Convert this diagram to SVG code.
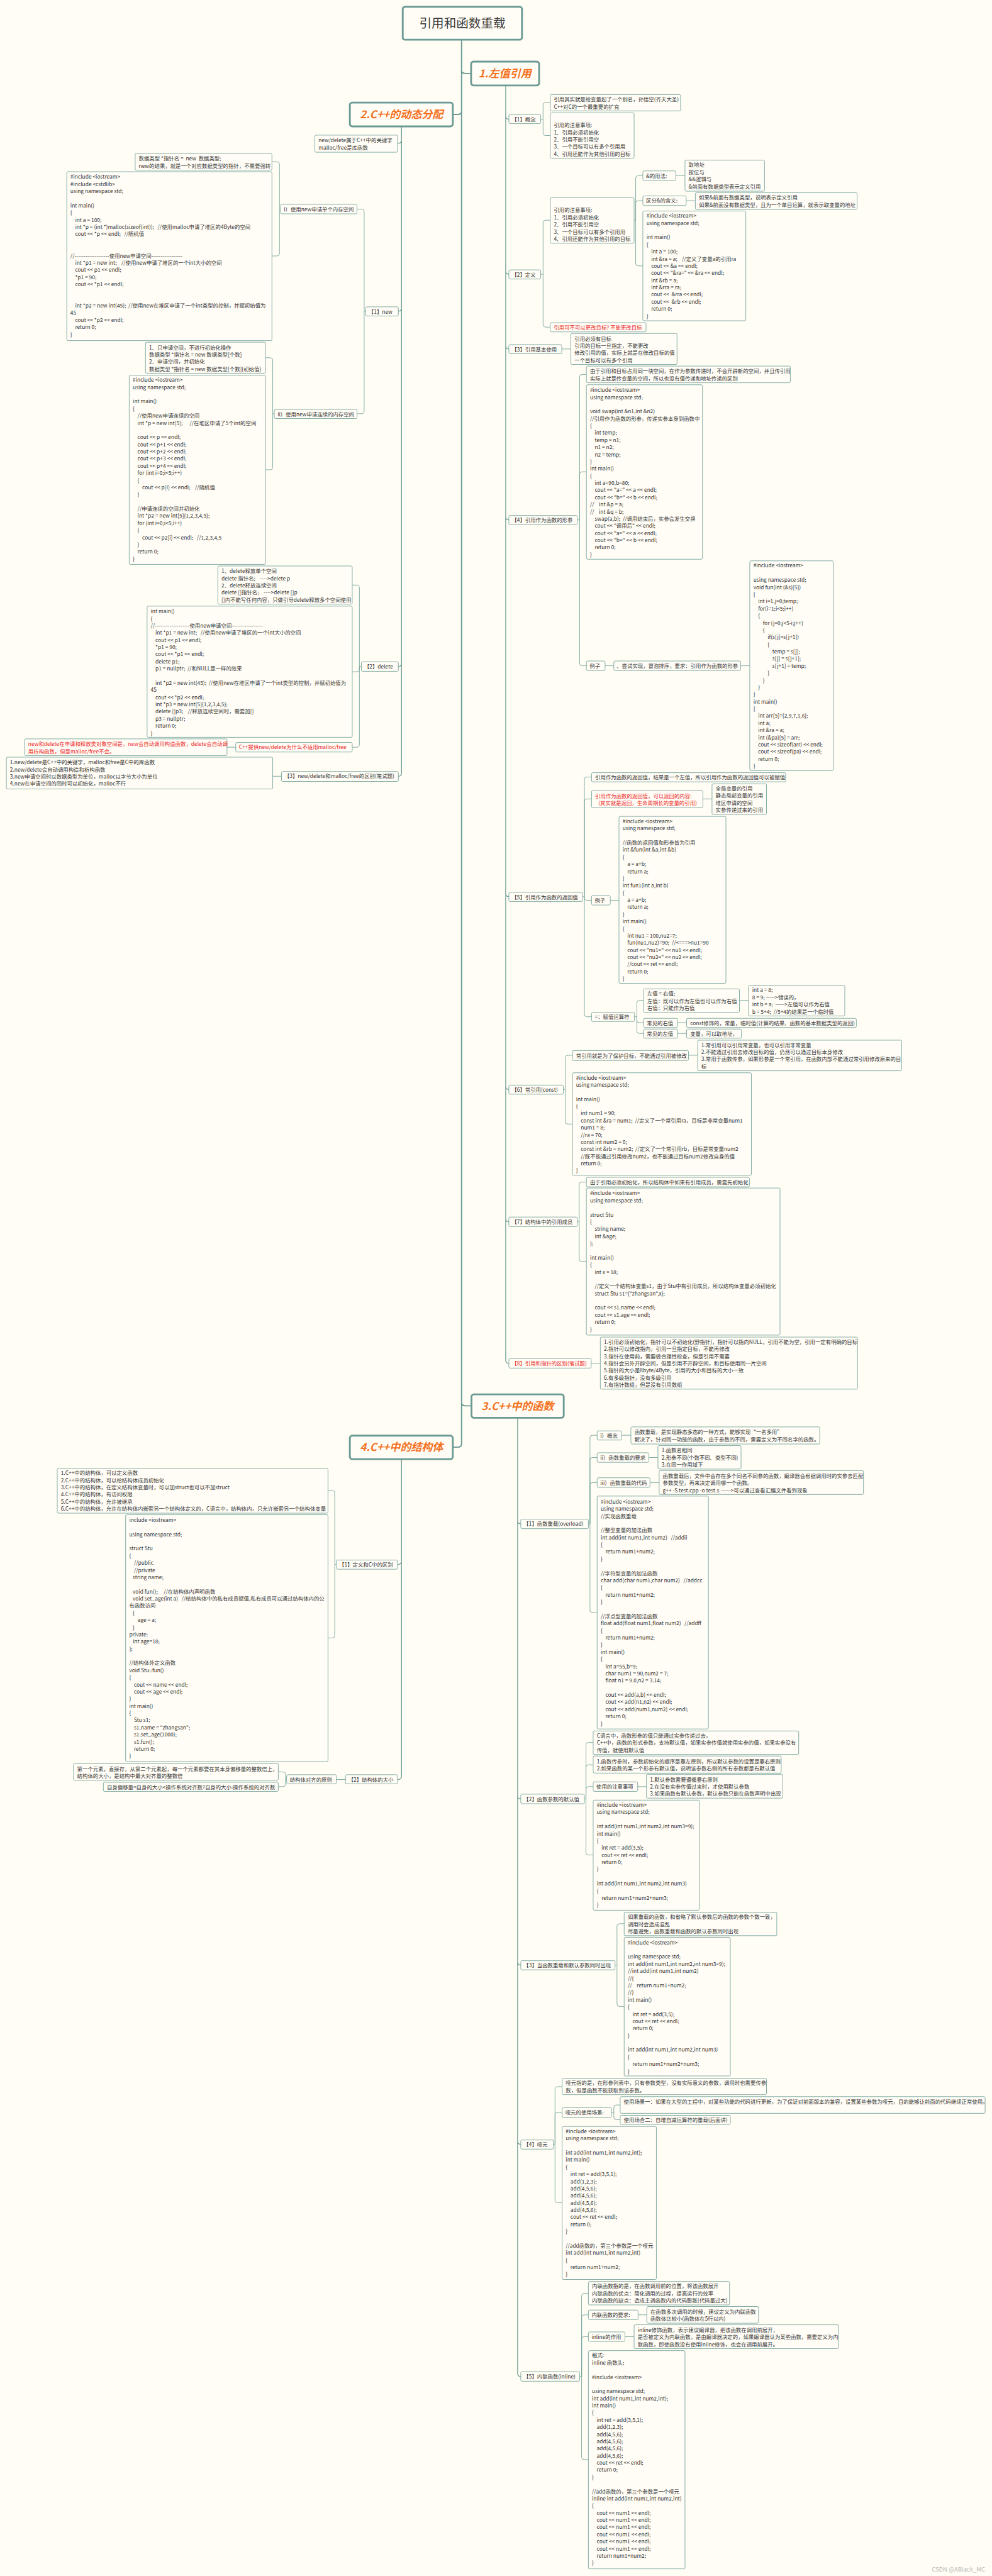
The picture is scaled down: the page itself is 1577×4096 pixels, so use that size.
<svg xmlns="http://www.w3.org/2000/svg" width="1577" height="4096" viewBox="0 0 1577 4096">
<style>
text{font-family:'Noto Sans CJK SC','Noto Sans',sans-serif;font-size:13.3px;fill:#333}
.r{fill:#ec1c1c}
.n{fill:#fffdf6;stroke:#74a29b;stroke-width:1.4;rx:3px}
.m{fill:#fffdf6;stroke:#6a9a93;stroke-width:4.5;rx:6px}
.mt{font-size:27px;font-weight:bold;font-style:italic;fill:#f4711f;text-anchor:middle}
.ti{font-size:31px;fill:#3a3a3a;text-anchor:middle}
.c{fill:none;stroke:#74a29b;stroke-width:1.4}
.c2{fill:none;stroke:#6a9a93;stroke-width:2}
.c3{fill:none;stroke:#6a9a93;stroke-width:3}
.wm{font-size:15px;fill:#b8b8b8;text-anchor:end}
</style>
<rect width="1577" height="4096" fill="#fffdf4"/>
<g transform="scale(0.632)">
<g id="connectors">
<path class="c3" d="M1161 100 V3633 Q1161 3641 1151 3641 H1139 M1161 177 Q1161 185 1171 185 H1185 M1161 280 Q1161 288 1151 288 H1139 M1161 3529 Q1161 3537 1171 3537 H1186"/>
<path class="c2" d="M1272 215 V3422 Q1272 3430 1280 3430 M1272 292 Q1272 300 1280 300 M1272 682 Q1272 690 1280 690 M1272 870 Q1272 878 1280 878 M1272 1300 Q1272 1308 1280 1308 M1272 2248 Q1272 2256 1280 2256 M1272 2733 Q1272 2741 1280 2741 M1272 3066 Q1272 3074 1280 3074"/>
<path class="c2" d="M1302 3567 V5971 Q1302 5979 1310 5979 M1302 3826 Q1302 3834 1310 3834 M1302 4518 Q1302 4526 1310 4526 M1302 4936 Q1302 4944 1310 4944 M1302 5387 Q1302 5395 1310 5395"/>
<path class="c2" d="M1010 318 V1945 Q1010 1953 1002 1953 M1010 353 Q1010 361 1000 361 M1010 775 Q1010 783 1002 783 M1010 1669 Q1010 1677 1002 1677"/>
<path class="c2" d="M1010 3671 V4469 Q1010 4477 1000 4477 M1010 3928 Q1010 3936 1000 3936"/>
<path class="c" d="M1360 300 H1366 M1366 300 V264 Q1366 258 1372 258 H1384 M1366 300 V335 Q1366 341 1372 341 H1384"/>
<path class="c" d="M1360 690 H1366 M1366 690 V560 Q1366 554 1372 554 H1384 M1366 690 V817 Q1366 823 1372 823 H1384"/>
<path class="c" d="M1595 554 H1599 M1599 554 V448 Q1599 442 1605 442 H1617 M1599 554 V511 Q1599 505 1605 505 H1617 M1599 554 V663 Q1599 669 1605 669 H1617"/>
<path class="c" d="M1700 442 H1723 M1726 505 H1749 M1413 878 H1436 M1522 1675 H1544 M1863 1675 H1886 M1768 2010 H1791 M1535 2265 H1557 M1860 2517 H1883 M1704 2573 H1727 M1704 2600 H1727 M1732 2655 H1755 M1487 3430 H1510"/>
<path class="c" d="M1452 1308 H1458 M1458 1308 V948 Q1458 942 1464 942 H1475 M1458 1308 V1193 Q1458 1187 1464 1187 H1475 M1458 1308 V1669 Q1458 1675 1464 1675 H1475"/>
<path class="c" d="M1466 2256 H1470 M1470 2256 V1961 Q1470 1955 1476 1955 H1488 M1470 2256 V2016 Q1470 2010 1476 2010 H1488 M1470 2256 V2259 Q1470 2265 1476 2265 H1488 M1470 2256 V2552 Q1470 2558 1476 2558 H1488"/>
<path class="c" d="M1596 2558 H1602 M1602 2558 V2523 Q1602 2517 1608 2517 H1619 M1602 2558 V2567 Q1602 2573 1608 2573 H1619 M1602 2558 V2594 Q1602 2600 1608 2600 H1619"/>
<path class="c" d="M1417 2741 H1422 M1422 2741 V2661 Q1422 2655 1428 2655 H1440 M1422 2741 V2822 Q1422 2828 1428 2828 H1440"/>
<path class="c" d="M1452 3074 H1457 M1457 3074 V2980 Q1457 2974 1463 2974 H1475 M1457 3074 V3168 Q1457 3174 1463 3174 H1475"/>
<path class="c" d="M1480 3834 H1484 M1484 3834 V3617 Q1484 3611 1490 3611 H1502 M1484 3834 V3673 Q1484 3667 1490 3667 H1502 M1484 3834 V3736 Q1484 3730 1490 3730 H1502 M1484 3834 V4051 Q1484 4057 1490 4057 H1502"/>
<path class="c" d="M1564 3611 H1587 M1632 3667 H1655 M1635 3730 H1658 M1604 4495 H1626 M1605 5824 H1627 M1572 5879 H1595"/>
<path class="c" d="M1470 4526 H1474 M1474 4526 V4390 Q1474 4384 1480 4384 H1492 M1474 4526 V4446 Q1474 4440 1480 4440 H1492 M1474 4526 V4501 Q1474 4495 1480 4495 H1492 M1474 4526 V4661 Q1474 4667 1480 4667 H1492"/>
<path class="c" d="M1547 4944 H1552 M1552 4944 V4846 Q1552 4840 1558 4840 H1570 M1552 4944 V5042 Q1552 5048 1558 5048 H1570"/>
<path class="c" d="M1392 5395 H1396 M1396 5395 V5256 Q1396 5250 1402 5250 H1414 M1396 5395 V5321 Q1396 5315 1402 5315 H1414 M1396 5395 V5536 Q1396 5542 1402 5542 H1414"/>
<path class="c" d="M1538 5315 H1544 M1544 5315 V5302 Q1544 5296 1550 5296 H1560 M1544 5315 V5327 Q1544 5333 1550 5333 H1560"/>
<path class="c" d="M1458 5979 H1463 M1463 5979 V5776 Q1463 5770 1469 5770 H1480 M1463 5979 V5830 Q1463 5824 1469 5824 H1480 M1463 5979 V5885 Q1463 5879 1469 5879 H1480 M1463 5979 V6182 Q1463 6188 1469 6188 H1480"/>
<path class="c" d="M920 783 H916 M916 783 V532 Q916 526 910 526 H898 M916 783 V1035 Q916 1041 910 1041 H898"/>
<path class="c" d="M706 526 H703 M703 526 V413 Q703 407 697 407 H684 M703 526 V638 Q703 644 697 644 H684"/>
<path class="c" d="M690 1041 H686 M686 1041 V906 Q686 900 680 900 H668 M686 1041 V1176 Q686 1182 680 1182 H668"/>
<path class="c" d="M909 1677 H904 M904 1677 V1478 Q904 1472 898 1472 H886 M904 1677 V1684 Q904 1690 898 1690 H886 M904 1677 V1874 Q904 1880 898 1880 H886"/>
<path class="c" d="M593 1880 H571 M708 1953 H686 M869 4477 H846"/>
<path class="c" d="M846 3936 H842 M842 3936 V3756 Q842 3750 836 3750 H825 M842 3936 V4115 Q842 4121 836 4121 H825"/>
<path class="c" d="M721 4477 H718 M718 4477 V4464 Q718 4458 712 4458 H700 M718 4477 V4489 Q718 4495 712 4495 H700"/>
</g>

<g id="title"><rect class="m" x="1013" y="17" width="300" height="83"/><text class="ti" x="1163" y="70">引用和函数重载</text></g>
<g id="main1"><rect class="m" x="1185" y="155" width="171" height="60"/><text class="mt" x="1270" y="194">1.左值引用</text></g>
<g id="main2"><rect class="m" x="880" y="258" width="259" height="60"/><text class="mt" x="1010" y="297">2.C++的动态分配</text></g>
<g id="main3"><rect class="m" x="1186" y="3508" width="232" height="59"/><text class="mt" x="1302" y="3547">3.C++中的函数</text></g>
<g id="main4"><rect class="m" x="880" y="3612" width="259" height="59"/><text class="mt" x="1010" y="3651">4.C++中的结构体</text></g>

<g id="s1-1"><rect class="n" x="1280" y="288" width="80" height="23"/><text x="1287" y="305">【1】概念</text></g>
<g id="s1-1a"><rect class="n" x="1384" y="238" width="328" height="41"/><text><tspan x="1393" y="255">引用其实就是给变量起了一个别名，孙悟空(齐天大圣)</tspan><tspan x="1393" y="273">C++对C的一个最重要的扩充</tspan></text></g>
<g id="s1-1b"><rect class="n" x="1384" y="284" width="211" height="114"/><text><tspan x="1393" y="320">引用的注意事项:</tspan><tspan x="1393" y="338">1、引用必须初始化</tspan><tspan x="1393" y="356">2、引用不能引用空</tspan><tspan x="1393" y="374">3、一个目标可以有多个引用用</tspan><tspan x="1393" y="392">4、引用还能作为其他引用的目标</tspan></text></g>

<g id="s1-2"><rect class="n" x="1280" y="679" width="80" height="23"/><text x="1287" y="696">【2】定义</text></g>
<g id="s1-2a"><rect class="n" x="1384" y="497" width="211" height="115"/><text><tspan x="1393" y="534">引用的注意事项:</tspan><tspan x="1393" y="552">1、引用必须初始化</tspan><tspan x="1393" y="570">2、引用不能引用空</tspan><tspan x="1393" y="588">3、一个目标可以有多个引用用</tspan><tspan x="1393" y="606">4、引用还能作为其他引用的目标</tspan></text></g>
<g id="s1-2a1"><rect class="n" x="1617" y="430" width="83" height="24"/><text x="1625" y="447">&amp;的用法:</text></g>
<g id="s1-2a1a"><rect class="n" x="1723" y="403" width="200" height="78"/><text><tspan x="1732" y="420">取地址</tspan><tspan x="1732" y="438">按位与</tspan><tspan x="1732" y="456">&amp;&amp;逻辑与</tspan><tspan x="1732" y="474">&amp;前面有数据类型表示定义引用</tspan></text></g>
<g id="s1-2a2"><rect class="n" x="1617" y="493" width="109" height="24"/><text x="1625" y="510">区分&amp;的含义:</text></g>
<g id="s1-2a2a"><rect class="n" x="1749" y="485" width="407" height="42"/><text><tspan x="1758" y="502">如果&amp;前面有数据类型，说明表示定义引用</tspan><tspan x="1758" y="520">如果&amp;前面没有数据类型，且为一个单目运算，就表示取变量的地址</tspan></text></g>
<g id="s1-2a3"><rect class="n" x="1617" y="531" width="259" height="276"/><text xml:space="preserve"><tspan x="1626" y="548">#include &lt;iostream&gt;</tspan><tspan x="1626" y="566">using namespace std;</tspan><tspan x="1626" y="602">int main()</tspan><tspan x="1626" y="620">{</tspan><tspan x="1626" y="638">    int a = 100;</tspan><tspan x="1626" y="656">    int &amp;ra = a;    //定义了变量a的引用ra</tspan><tspan x="1626" y="674">    cout &lt;&lt; &amp;a &lt;&lt; endl;</tspan><tspan x="1626" y="692">    cout &lt;&lt; "&amp;ra=" &lt;&lt; &amp;ra &lt;&lt; endl;</tspan><tspan x="1626" y="710">    int &amp;rb = a;</tspan><tspan x="1626" y="728">    int &amp;rra = ra;</tspan><tspan x="1626" y="746">    cout &lt;&lt;  &amp;rra &lt;&lt; endl;</tspan><tspan x="1626" y="764">    cout &lt;&lt;  &amp;rb &lt;&lt; endl;</tspan><tspan x="1626" y="782">    return 0;</tspan><tspan x="1626" y="800">}</tspan></text></g>
<g id="s1-2b"><rect class="n" x="1384" y="812" width="241" height="23"/><text class="r" x="1393" y="829">引用可不可以更改目标? 不能更改目标</text></g>

<g id="s1-3"><rect class="n" x="1280" y="867" width="133" height="23"/><text x="1287" y="884">【3】引用基本使用</text></g>
<g id="s1-3a"><rect class="n" x="1436" y="839" width="267" height="78"/><text><tspan x="1445" y="857">引用必须有目标</tspan><tspan x="1445" y="875">引用的目标一旦指定，不能更改</tspan><tspan x="1445" y="893">修改引用的值，实际上就是在修改目标的值</tspan><tspan x="1445" y="911">一个目标可以有多个引用</tspan></text></g>

<g id="s1-4"><rect class="n" x="1280" y="1297" width="172" height="23"/><text x="1287" y="1314">【4】引用作为函数的形参</text></g>
<g id="s1-4a"><rect class="n" x="1475" y="921" width="513" height="42"/><text><tspan x="1484" y="939">由于引用和目标占用同一块空间，在作为参数传递时，不会开辟新的空间，并且传引用</tspan><tspan x="1484" y="957">实际上就是传变量的空间，所以也没有值传递和地址传递的区别</tspan></text></g>
<g id="s1-4b"><rect class="n" x="1475" y="968" width="292" height="439"/><text xml:space="preserve"><tspan x="1484" y="986">#include &lt;iostream&gt;</tspan><tspan x="1484" y="1004">using namespace std;</tspan><tspan x="1484" y="1040">void swap(int &amp;n1,int &amp;n2)</tspan><tspan x="1484" y="1058">//引用作为函数的形参，传递实参本身到函数中</tspan><tspan x="1484" y="1076">{</tspan><tspan x="1484" y="1094">    int temp;</tspan><tspan x="1484" y="1112">    temp = n1;</tspan><tspan x="1484" y="1130">    n1 = n2;</tspan><tspan x="1484" y="1148">    n2 = temp;</tspan><tspan x="1484" y="1166">}</tspan><tspan x="1484" y="1184">int main()</tspan><tspan x="1484" y="1202">{</tspan><tspan x="1484" y="1220">    int a=90,b=80;</tspan><tspan x="1484" y="1238">    cout &lt;&lt; "a=" &lt;&lt; a &lt;&lt; endl;</tspan><tspan x="1484" y="1256">    cout &lt;&lt; "b=" &lt;&lt; b &lt;&lt; endl;</tspan><tspan x="1484" y="1274">//    int &amp;p = a;</tspan><tspan x="1484" y="1292">//    int &amp;q = b;</tspan><tspan x="1484" y="1310">    swap(a,b);  //调用结束后，实参会发生交换</tspan><tspan x="1484" y="1328">    cout &lt;&lt; "调用后" &lt;&lt; endl;</tspan><tspan x="1484" y="1346">    cout &lt;&lt; "a=" &lt;&lt; a &lt;&lt; endl;</tspan><tspan x="1484" y="1364">    cout &lt;&lt; "b=" &lt;&lt; b &lt;&lt; endl;</tspan><tspan x="1484" y="1382">    return 0;</tspan><tspan x="1484" y="1400">}</tspan></text></g>
<g id="s1-4c"><rect class="n" x="1475" y="1663" width="47" height="24"/><text x="1483" y="1680">例子</text></g>
<g id="s1-4c1"><rect class="n" x="1544" y="1663" width="319" height="24"/><text x="1551" y="1680">、尝试实现，冒泡排序，要求：引用作为函数的形参</text></g>
<g id="s1-4c2"><rect class="n" x="1886" y="1411" width="210" height="528"/><text xml:space="preserve"><tspan x="1895" y="1428">#include &lt;iostream&gt;</tspan><tspan x="1895" y="1464">using namespace std;</tspan><tspan x="1895" y="1482">void fun(int (&amp;s)[5])</tspan><tspan x="1895" y="1500">{</tspan><tspan x="1895" y="1518">    int i=1,j=0,temp;</tspan><tspan x="1895" y="1536">    for(i=1;i&lt;5;i++)</tspan><tspan x="1895" y="1554">    {</tspan><tspan x="1895" y="1572">        for (j=0;j&lt;5-i;j++)</tspan><tspan x="1895" y="1590">        {</tspan><tspan x="1895" y="1608">            if(s[j]&gt;s[j+1])</tspan><tspan x="1895" y="1626">            {</tspan><tspan x="1895" y="1644">                temp = s[j];</tspan><tspan x="1895" y="1662">                s[j] = s[j+1];</tspan><tspan x="1895" y="1680">                s[j+1] = temp;</tspan><tspan x="1895" y="1698">            }</tspan><tspan x="1895" y="1716">        }</tspan><tspan x="1895" y="1734">    }</tspan><tspan x="1895" y="1752">}</tspan><tspan x="1895" y="1770">int main()</tspan><tspan x="1895" y="1788">{</tspan><tspan x="1895" y="1806">    int arr[5]={2,9,7,1,6};</tspan><tspan x="1895" y="1824">    int a;</tspan><tspan x="1895" y="1842">    int &amp;ra = a;</tspan><tspan x="1895" y="1860">    int (&amp;pa)[5] = arr;</tspan><tspan x="1895" y="1878">    cout &lt;&lt; sizeof(arr) &lt;&lt; endl;</tspan><tspan x="1895" y="1896">    cout &lt;&lt; sizeof(pa) &lt;&lt; endl;</tspan><tspan x="1895" y="1914">    return 0;</tspan><tspan x="1895" y="1932">}</tspan></text></g>

<g id="s1-5"><rect class="n" x="1280" y="2245" width="186" height="23"/><text x="1287" y="2262">【5】引用作为函数的返回值</text></g>
<g id="s1-5a"><rect class="n" x="1488" y="1944" width="488" height="23"/><text x="1497" y="1961">引用作为函数的返回值，结果是一个左值，所以引用作为函数的返回值可以被赋值</text></g>
<g id="s1-5b"><rect class="n" x="1488" y="1989" width="280" height="43"/><text class="r"><tspan x="1497" y="2008">引用作为函数的返回值，可以返回的内容:</tspan><tspan x="1505" y="2025">(其实就是返回，生命周期长的变量的引用)</tspan></text></g>
<g id="s1-5b1"><rect class="n" x="1791" y="1972" width="137" height="77"/><text><tspan x="1800" y="1989">全局变量的引用</tspan><tspan x="1800" y="2007">静态局部变量的引用</tspan><tspan x="1800" y="2025">堆区申请的空间</tspan><tspan x="1800" y="2043">实参传递过来的引用</tspan></text></g>
<g id="s1-5c"><rect class="n" x="1488" y="2253" width="47" height="24"/><text x="1496" y="2270">例子</text></g>
<g id="s1-5c1"><rect class="n" x="1557" y="2054" width="269" height="420"/><text xml:space="preserve"><tspan x="1566" y="2071">#include &lt;iostream&gt;</tspan><tspan x="1566" y="2089">using namespace std;</tspan><tspan x="1566" y="2125">//函数的返回值和形参皆为引用</tspan><tspan x="1566" y="2143">int &amp;fun(int &amp;a,int &amp;b)</tspan><tspan x="1566" y="2161">{</tspan><tspan x="1566" y="2179">    a = a+b;</tspan><tspan x="1566" y="2197">    return a;</tspan><tspan x="1566" y="2215">}</tspan><tspan x="1566" y="2233">int fun1(int a,int b)</tspan><tspan x="1566" y="2251">{</tspan><tspan x="1566" y="2269">    a = a+b;</tspan><tspan x="1566" y="2287">    return a;</tspan><tspan x="1566" y="2305">}</tspan><tspan x="1566" y="2323">int main()</tspan><tspan x="1566" y="2341">{</tspan><tspan x="1566" y="2359">    int nu1 = 100,nu2=7;</tspan><tspan x="1566" y="2377">    fun(nu1,nu2)=90;  //&lt;===&gt;nu1=90</tspan><tspan x="1566" y="2395">    cout &lt;&lt; "nu1=" &lt;&lt; nu1 &lt;&lt; endl;</tspan><tspan x="1566" y="2413">    cout &lt;&lt; "nu2=" &lt;&lt; nu2 &lt;&lt; endl;</tspan><tspan x="1566" y="2431">    //cout &lt;&lt; ret &lt;&lt; endl;</tspan><tspan x="1566" y="2449">    return 0;</tspan><tspan x="1566" y="2467">}</tspan></text></g>
<g id="s1-5d"><rect class="n" x="1488" y="2547" width="108" height="23"/><text x="1496" y="2564">=：赋值运算符</text></g>
<g id="s1-5d1"><rect class="n" x="1619" y="2488" width="241" height="59"/><text><tspan x="1628" y="2505">左值 = 右值;</tspan><tspan x="1628" y="2523">左值：既可以作为左值也可以作为右值</tspan><tspan x="1628" y="2541">右值：只能作为右值</tspan></text></g>
<g id="s1-5d1a"><rect class="n" x="1883" y="2479" width="242" height="77"/><text xml:space="preserve"><tspan x="1892" y="2496">int a = 8;</tspan><tspan x="1892" y="2514">8 = 9; -----&gt;错误的，</tspan><tspan x="1892" y="2532">int b = a;  -----&gt;左值可以作为右值</tspan><tspan x="1892" y="2550">b = 5+4;  //5+4的结果是一个临时值</tspan></text></g>
<g id="s1-5d2"><rect class="n" x="1619" y="2562" width="85" height="23"/><text x="1627" y="2579">常见的右值</text></g>
<g id="s1-5d2a"><rect class="n" x="1727" y="2562" width="427" height="23"/><text x="1736" y="2579">const修饰的，常量，临时值(计算的结果、函数的基本数据类型的返回)</text></g>
<g id="s1-5d3"><rect class="n" x="1619" y="2589" width="85" height="23"/><text x="1627" y="2606">常见的左值</text></g>
<g id="s1-5d3a"><rect class="n" x="1727" y="2589" width="138" height="23"/><text x="1736" y="2606">变量，可以取地址，</text></g>

<g id="s1-6"><rect class="n" x="1280" y="2730" width="137" height="23"/><text x="1287" y="2747">【6】常引用(const)</text></g>
<g id="s1-6a"><rect class="n" x="1440" y="2643" width="292" height="25"/><text x="1449" y="2661">常引用就是为了保护目标，不能通过引用被修改</text></g>
<g id="s1-6a1"><rect class="n" x="1755" y="2617" width="513" height="77"/><text><tspan x="1764" y="2634">1.常引用可以引用常变量，也可以引用非常变量</tspan><tspan x="1764" y="2652">2.不能通过引用去修改目标的值，仍然可以通过目标本身修改</tspan><tspan x="1764" y="2670">3.常用于函数传参，如果形参是一个常引用，在函数内部不能通过常引用修改原来的目</tspan><tspan x="1764" y="2688">标</tspan></text></g>
<g id="s1-6b"><rect class="n" x="1440" y="2699" width="450" height="258"/><text xml:space="preserve"><tspan x="1449" y="2716">#include &lt;iostream&gt;</tspan><tspan x="1449" y="2734">using namespace std;</tspan><tspan x="1449" y="2770">int main()</tspan><tspan x="1449" y="2788">{</tspan><tspan x="1449" y="2806">    int num1 = 90;</tspan><tspan x="1449" y="2824">    const int &amp;ra = num1;  //定义了一个常引用ra，目标是非常变量num1</tspan><tspan x="1449" y="2842">    num1 = 8;</tspan><tspan x="1449" y="2860">    //ra = 70;</tspan><tspan x="1449" y="2878">    const int num2 = 0;</tspan><tspan x="1449" y="2896">    const int &amp;rb = num2;  //定义了一个常引用rb，目标是常变量num2</tspan><tspan x="1449" y="2914">    //既不能通过引用修改num2，也不能通过目标num2修改自身的值</tspan><tspan x="1449" y="2932">    return 0;</tspan><tspan x="1449" y="2950">}</tspan></text></g>

<g id="s1-7"><rect class="n" x="1280" y="3062" width="172" height="24"/><text x="1287" y="3079">【7】结构体中的引用成员</text></g>
<g id="s1-7a"><rect class="n" x="1475" y="2962" width="410" height="24"/><text x="1484" y="2979">由于引用必须初始化，所以结构体中如果有引用成员，需要先初始化</text></g>
<g id="s1-7b"><rect class="n" x="1475" y="2989" width="487" height="370"/><text xml:space="preserve"><tspan x="1484" y="3007">#include &lt;iostream&gt;</tspan><tspan x="1484" y="3025">using namespace std;</tspan><tspan x="1484" y="3061">struct Stu</tspan><tspan x="1484" y="3079">{</tspan><tspan x="1484" y="3097">    string name;</tspan><tspan x="1484" y="3115">    int &amp;age;</tspan><tspan x="1484" y="3133">};</tspan><tspan x="1484" y="3169">int main()</tspan><tspan x="1484" y="3187">{</tspan><tspan x="1484" y="3205">    int x = 18;</tspan><tspan x="1484" y="3241">    //定义一个结构体变量s1，由于Stu中有引用成员，所以结构体变量必须初始化</tspan><tspan x="1484" y="3259">    struct Stu s1={"zhangsan",x};</tspan><tspan x="1484" y="3295">    cout &lt;&lt; s1.name &lt;&lt; endl;</tspan><tspan x="1484" y="3313">    cout &lt;&lt; s1.age &lt;&lt; endl;</tspan><tspan x="1484" y="3331">    return 0;</tspan><tspan x="1484" y="3349">}</tspan></text></g>

<g id="s1-8"><rect class="n" x="1280" y="3418" width="207" height="24"/><text class="r" x="1287" y="3435">【8】引用和指针的区别(笔试题)</text></g>
<g id="s1-8a"><rect class="n" x="1510" y="3364" width="647" height="131"/><text><tspan x="1519" y="3381">1.引用必须初始化，指针可以不初始化(野指针)，指针可以指向NULL，引用不能为空，引用一定有明确的目标</tspan><tspan x="1519" y="3399">2.指针可以修改指向，引用一旦指定目标，不能再修改</tspan><tspan x="1519" y="3417">3.指针在使用前，需要做合理性检查，但是引用不需要</tspan><tspan x="1519" y="3435">4.指针会另外开辟空间，但是引用不开辟空间，和目标使用同一片空间</tspan><tspan x="1519" y="3453">5.指针的大小是8byte/4Byte，引用的大小和目标的大小一致</tspan><tspan x="1519" y="3471">6.有多级指针，没有多级引用</tspan><tspan x="1519" y="3489">7.有指针数组，但是没有引用数组</tspan></text></g>

<g id="s3-1"><rect class="n" x="1310" y="3822" width="170" height="24"/><text x="1317" y="3839">【1】函数重载(overload)</text></g>
<g id="s3-1a"><rect class="n" x="1502" y="3600" width="62" height="23"/><text x="1510" y="3617">i）概念</text></g>
<g id="s3-1a1"><rect class="n" x="1587" y="3590" width="475" height="43"/><text><tspan x="1596" y="3608">函数重载，是实现静态多态的一种方式，能够实现“一名多用”</tspan><tspan x="1596" y="3626">解决了，针对同一功能的函数，由于参数的不同，需要定义为不同名字的函数。</tspan></text></g>
<g id="s3-1b"><rect class="n" x="1502" y="3655" width="130" height="24"/><text x="1510" y="3672">ii）函数重载的要求</text></g>
<g id="s3-1b1"><rect class="n" x="1655" y="3637" width="209" height="59"/><text><tspan x="1664" y="3654">1.函数名相同</tspan><tspan x="1664" y="3672">2.形参不同(个数不同、类型不同)</tspan><tspan x="1664" y="3690">3.在同一作用域下</tspan></text></g>
<g id="s3-1c"><rect class="n" x="1502" y="3718" width="133" height="24"/><text x="1510" y="3735">iii）函数重载的代码</text></g>
<g id="s3-1c1"><rect class="n" x="1658" y="3700" width="514" height="60"/><text xml:space="preserve"><tspan x="1667" y="3718">函数重载后，文件中会存在多个同名不同参的函数，编译器会根据调用时的实参去匹配</tspan><tspan x="1667" y="3736">参数类型，再来决定调用哪一个函数。</tspan><tspan x="1667" y="3754">g++ -S test.cpp -o test.s  -----&gt;可以通过查看汇编文件看到现象</tspan></text></g>
<g id="s3-1d"><rect class="n" x="1502" y="3764" width="280" height="586"/><text xml:space="preserve"><tspan x="1511" y="3783">#include &lt;iostream&gt;</tspan><tspan x="1511" y="3801">using namespace std;</tspan><tspan x="1511" y="3819">//实现函数重载</tspan><tspan x="1511" y="3855">//整型变量的加法函数</tspan><tspan x="1511" y="3873">int add(int num1,int num2)   //addii</tspan><tspan x="1511" y="3891">{</tspan><tspan x="1511" y="3909">    return num1+num2;</tspan><tspan x="1511" y="3927">}</tspan><tspan x="1511" y="3963">//字符型变量的加法函数</tspan><tspan x="1511" y="3981">char add(char num1,char num2)   //addcc</tspan><tspan x="1511" y="3999">{</tspan><tspan x="1511" y="4017">    return num1+num2;</tspan><tspan x="1511" y="4035">}</tspan><tspan x="1511" y="4071">//浮点型变量的加法函数</tspan><tspan x="1511" y="4089">float add(float num1,float num2)   //addff</tspan><tspan x="1511" y="4107">{</tspan><tspan x="1511" y="4125">    return num1+num2;</tspan><tspan x="1511" y="4143">}</tspan><tspan x="1511" y="4161">int main()</tspan><tspan x="1511" y="4179">{</tspan><tspan x="1511" y="4197">    int a=55,b=9;</tspan><tspan x="1511" y="4215">    char num1 = 90,num2 = 7;</tspan><tspan x="1511" y="4233">    float n1 = 9.0,n2 = 3.14;</tspan><tspan x="1511" y="4269">    cout &lt;&lt; add(a,b) &lt;&lt; endl;</tspan><tspan x="1511" y="4287">    cout &lt;&lt; add(n1,n2) &lt;&lt; endl;</tspan><tspan x="1511" y="4305">    cout &lt;&lt; add(num1,num2) &lt;&lt; endl;</tspan><tspan x="1511" y="4323">    return 0;</tspan><tspan x="1511" y="4341">}</tspan></text></g>

<g id="s3-2"><rect class="n" x="1310" y="4514" width="160" height="24"/><text x="1317" y="4531">【2】函数参数的默认值</text></g>
<g id="s3-2a"><rect class="n" x="1492" y="4355" width="517" height="59"/><text><tspan x="1501" y="4372">C语言中，函数形参的值只能通过实参传递过去，</tspan><tspan x="1501" y="4390">C++中，函数的形式参数，支持默认值，如果实参传值就使用实参的值，如果实参没有</tspan><tspan x="1501" y="4408">传值，就使用默认值</tspan></text></g>
<g id="s3-2b"><rect class="n" x="1492" y="4418" width="473" height="43"/><text><tspan x="1501" y="4436">1.函数传参时，参数初始化的顺序是靠左原则，所以默认参数的设置是靠右原则</tspan><tspan x="1501" y="4454">2.如果函数的某一个形参有默认值，说明该参数右侧的所有参数都是有默认值</tspan></text></g>
<g id="s3-2c"><rect class="n" x="1492" y="4483" width="112" height="24"/><text x="1500" y="4500">使用的注意事项</text></g>
<g id="s3-2c1"><rect class="n" x="1626" y="4464" width="343" height="60"/><text><tspan x="1635" y="4482">1.默认参数需要遵循靠右原则</tspan><tspan x="1635" y="4500">2.在没有实参传值过来时，才使用默认参数</tspan><tspan x="1635" y="4518">3.如果函数有默认参数，默认参数只能在函数声明中出现</tspan></text></g>
<g id="s3-2d"><rect class="n" x="1492" y="4529" width="267" height="277"/><text xml:space="preserve"><tspan x="1501" y="4546">#include &lt;iostream&gt;</tspan><tspan x="1501" y="4564">using namespace std;</tspan><tspan x="1501" y="4600">int add(int num1,int num2,int num3=9);</tspan><tspan x="1501" y="4618">int main()</tspan><tspan x="1501" y="4636">{</tspan><tspan x="1501" y="4654">    int ret = add(3,5);</tspan><tspan x="1501" y="4672">    cout &lt;&lt; ret &lt;&lt; endl;</tspan><tspan x="1501" y="4690">    return 0;</tspan><tspan x="1501" y="4708">}</tspan><tspan x="1501" y="4744">int add(int num1,int num2,int num3)</tspan><tspan x="1501" y="4762">{</tspan><tspan x="1501" y="4780">    return num1+num2+num3;</tspan><tspan x="1501" y="4798">}</tspan></text></g>

<g id="s3-3"><rect class="n" x="1310" y="4933" width="237" height="23"/><text x="1317" y="4950">【3】当函数重载和默认参数同时出现</text></g>
<g id="s3-3a"><rect class="n" x="1570" y="4811" width="384" height="59"/><text><tspan x="1579" y="4828">如果重载的函数，和省略了默认参数后的函数的参数个数一致，</tspan><tspan x="1579" y="4846">调用时会造成混乱</tspan><tspan x="1579" y="4864">尽量避免，函数重载和函数的默认参数同时出现</tspan></text></g>
<g id="s3-3b"><rect class="n" x="1570" y="4874" width="267" height="349"/><text xml:space="preserve"><tspan x="1579" y="4892">#include &lt;iostream&gt;</tspan><tspan x="1579" y="4928">using namespace std;</tspan><tspan x="1579" y="4946">int add(int num1,int num2,int num3=9);</tspan><tspan x="1579" y="4964">//int add(int num1,int num2)</tspan><tspan x="1579" y="4982">//{</tspan><tspan x="1579" y="5000">//    return num1+num2;</tspan><tspan x="1579" y="5018">//}</tspan><tspan x="1579" y="5036">int main()</tspan><tspan x="1579" y="5054">{</tspan><tspan x="1579" y="5072">    int ret = add(3,5);</tspan><tspan x="1579" y="5090">    cout &lt;&lt; ret &lt;&lt; endl;</tspan><tspan x="1579" y="5108">    return 0;</tspan><tspan x="1579" y="5126">}</tspan><tspan x="1579" y="5162">int add(int num1,int num2,int num3)</tspan><tspan x="1579" y="5180">{</tspan><tspan x="1579" y="5198">    return num1+num2+num3;</tspan><tspan x="1579" y="5216">}</tspan></text></g>

<g id="s3-4"><rect class="n" x="1310" y="5384" width="82" height="23"/><text x="1317" y="5401">【4】哑元</text></g>
<g id="s3-4a"><rect class="n" x="1414" y="5229" width="514" height="41"/><text><tspan x="1423" y="5246">哑元指的是，在形参列表中，只有参数类型，没有实际意义的参数，调用时也需要传参</tspan><tspan x="1423" y="5264">数，但是函数不能获取到该参数。</tspan></text></g>
<g id="s3-4b"><rect class="n" x="1414" y="5303" width="124" height="24"/><text x="1422" y="5320">哑元的使用场景:</text></g>
<g id="s3-4b1"><rect class="n" x="1560" y="5275" width="918" height="42"/><text x="1569" y="5292">使用场景一：如果在大型的工程中，对某些功能的代码进行更新，为了保证对前面版本的兼容，设置某些参数为哑元，目的能够让前面的代码继续正常使用。</text></g>
<g id="s3-4b2"><rect class="n" x="1560" y="5322" width="277" height="23"/><text x="1569" y="5339">使用场合二：自增自减运算符的重载(后面讲)</text></g>
<g id="s3-4c"><rect class="n" x="1414" y="5350" width="237" height="385"/><text xml:space="preserve"><tspan x="1423" y="5367">#include &lt;iostream&gt;</tspan><tspan x="1423" y="5385">using namespace std;</tspan><tspan x="1423" y="5421">int add(int num1,int num2,int);</tspan><tspan x="1423" y="5439">int main()</tspan><tspan x="1423" y="5457">{</tspan><tspan x="1423" y="5475">    int ret = add(3,5,1);</tspan><tspan x="1423" y="5493">    add(1,2,3);</tspan><tspan x="1423" y="5511">    add(4,5,6);</tspan><tspan x="1423" y="5529">    add(4,5,6);</tspan><tspan x="1423" y="5547">    add(4,5,6);</tspan><tspan x="1423" y="5565">    add(4,5,6);</tspan><tspan x="1423" y="5583">    cout &lt;&lt; ret &lt;&lt; endl;</tspan><tspan x="1423" y="5601">    return 0;</tspan><tspan x="1423" y="5619">}</tspan><tspan x="1423" y="5655">//add函数的，第三个参数是一个哑元</tspan><tspan x="1423" y="5673">int add(int num1,int num2,int)</tspan><tspan x="1423" y="5691">{</tspan><tspan x="1423" y="5709">    return num1+num2;</tspan><tspan x="1423" y="5727">}</tspan></text></g>

<g id="s3-5"><rect class="n" x="1310" y="5967" width="148" height="24"/><text x="1317" y="5984">【5】内联函数(inline)</text></g>
<g id="s3-5a"><rect class="n" x="1480" y="5740" width="355" height="59"/><text><tspan x="1489" y="5757">内联函数指的是，在函数调用前的位置，将该函数展开</tspan><tspan x="1489" y="5775">内联函数的优点：简化调用的过程，提高运行的效率</tspan><tspan x="1489" y="5793">内联函数的缺点：造成主调函数内的代码膨胀(代码量过大)</tspan></text></g>
<g id="s3-5b"><rect class="n" x="1480" y="5812" width="125" height="24"/><text x="1488" y="5829">内联函数的要求:</text></g>
<g id="s3-5b1"><rect class="n" x="1627" y="5803" width="281" height="42"/><text><tspan x="1636" y="5821">在函数多次调用的时候，建议定义为内联函数</tspan><tspan x="1636" y="5839">函数体比较小(函数体在5行以内)</tspan></text></g>
<g id="s3-5c"><rect class="n" x="1480" y="5867" width="92" height="24"/><text x="1488" y="5884">inline的作用</text></g>
<g id="s3-5c1"><rect class="n" x="1595" y="5849" width="514" height="60"/><text><tspan x="1604" y="5867">inline修饰函数，表示建议编译器，把该函数在调用前展开，</tspan><tspan x="1604" y="5885">是否被定义为内联函数，是由编译器决定的，如果编译器认为某些函数，需要定义为内</tspan><tspan x="1604" y="5903">联函数，即使函数没有使用inline修饰，也会在调用前展开。</tspan></text></g>
<g id="s3-5d"><rect class="n" x="1480" y="5914" width="243" height="549"/><text xml:space="preserve"><tspan x="1489" y="5931">格式:</tspan><tspan x="1489" y="5949">inline 函数头;</tspan><tspan x="1489" y="5985">#include &lt;iostream&gt;</tspan><tspan x="1489" y="6021">using namespace std;</tspan><tspan x="1489" y="6039">int add(int num1,int num2,int);</tspan><tspan x="1489" y="6057">int main()</tspan><tspan x="1489" y="6075">{</tspan><tspan x="1489" y="6093">    int ret = add(3,5,1);</tspan><tspan x="1489" y="6111">    add(1,2,3);</tspan><tspan x="1489" y="6129">    add(4,5,6);</tspan><tspan x="1489" y="6147">    add(4,5,6);</tspan><tspan x="1489" y="6165">    add(4,5,6);</tspan><tspan x="1489" y="6183">    add(4,5,6);</tspan><tspan x="1489" y="6201">    cout &lt;&lt; ret &lt;&lt; endl;</tspan><tspan x="1489" y="6219">    return 0;</tspan><tspan x="1489" y="6237">}</tspan><tspan x="1489" y="6273">//add函数的，第三个参数是一个哑元</tspan><tspan x="1489" y="6291">inline int add(int num1,int num2,int)</tspan><tspan x="1489" y="6309">{</tspan><tspan x="1489" y="6327">    cout &lt;&lt; num1 &lt;&lt; endl;</tspan><tspan x="1489" y="6345">    cout &lt;&lt; num1 &lt;&lt; endl;</tspan><tspan x="1489" y="6363">    cout &lt;&lt; num1 &lt;&lt; endl;</tspan><tspan x="1489" y="6381">    cout &lt;&lt; num1 &lt;&lt; endl;</tspan><tspan x="1489" y="6399">    cout &lt;&lt; num1 &lt;&lt; endl;</tspan><tspan x="1489" y="6417">    cout &lt;&lt; num1 &lt;&lt; endl;</tspan><tspan x="1489" y="6435">    return num1+num2;</tspan><tspan x="1489" y="6453">}</tspan></text></g>

<g id="s2-0"><rect class="n" x="792" y="340" width="208" height="43"/><text><tspan x="801" y="358">new/delete属于C++中的关键字</tspan><tspan x="801" y="376">malloc/free是库函数</tspan></text></g>
<g id="s2-1"><rect class="n" x="920" y="772" width="82" height="23"/><text x="927" y="789">【1】new</text></g>
<g id="s2-1a"><rect class="n" x="706" y="514" width="192" height="24"/><text x="714" y="531">i）使用new申请单个内存空间</text></g>
<g id="s2-1a1"><rect class="n" x="340" y="386" width="344" height="42"/><text xml:space="preserve"><tspan x="349" y="404">数据类型 *指针名 =  new  数据类型;</tspan><tspan x="349" y="422">new的结果，就是一个对应数据类型的指针，不需要强转</tspan></text></g>
<g id="s2-1a2"><rect class="n" x="168" y="432" width="516" height="425"/><text xml:space="preserve"><tspan x="177" y="450">#include &lt;iostream&gt;</tspan><tspan x="177" y="468">#include &lt;cstdlib&gt;</tspan><tspan x="177" y="486">using namespace std;</tspan><tspan x="177" y="522">int main()</tspan><tspan x="177" y="540">{</tspan><tspan x="177" y="558">    int a = 100;</tspan><tspan x="177" y="576">    int *p = (int *)malloc(sizeof(int));   //使用malloc申请了堆区的4Byte的空间</tspan><tspan x="177" y="594">    cout &lt;&lt; *p &lt;&lt; endl;   //随机值</tspan><tspan x="177" y="648">//-------------------使用new申请空间-----------------</tspan><tspan x="177" y="666">    int *p1 = new int;    //使用new申请了堆区的一个int大小的空间</tspan><tspan x="177" y="684">    cout &lt;&lt; p1 &lt;&lt; endl;</tspan><tspan x="177" y="702">    *p1 = 90;</tspan><tspan x="177" y="720">    cout &lt;&lt; *p1 &lt;&lt; endl;</tspan><tspan x="177" y="774">    int *p2 = new int(45);  //使用new在堆区申请了一个int类型的控制，并赋初始值为</tspan><tspan x="177" y="792">45</tspan><tspan x="177" y="810">    cout &lt;&lt; *p2 &lt;&lt; endl;</tspan><tspan x="177" y="828">    return 0;</tspan><tspan x="177" y="846">}</tspan></text></g>
<g id="s2-1b"><rect class="n" x="690" y="1030" width="208" height="23"/><text x="698" y="1047">ii）使用new申请连续的内存空间</text></g>
<g id="s2-1b1"><rect class="n" x="366" y="861" width="302" height="78"/><text><tspan x="375" y="879">1、只申请空间，不进行初始化操作</tspan><tspan x="375" y="897">数据类型 *指针名 = new 数据类型[个数]</tspan><tspan x="375" y="915">2、申请空间，并初始化</tspan><tspan x="375" y="933">数据类型 *指针名 = new 数据类型[个数]{初始值}</tspan></text></g>
<g id="s2-1b2"><rect class="n" x="325" y="944" width="343" height="476"/><text xml:space="preserve"><tspan x="334" y="961">#include &lt;iostream&gt;</tspan><tspan x="334" y="979">using namespace std;</tspan><tspan x="334" y="1015">int main()</tspan><tspan x="334" y="1033">{</tspan><tspan x="334" y="1051">    //使用new申请连续的空间</tspan><tspan x="334" y="1069">    int *p = new int[5];      //在堆区申请了5个int的空间</tspan><tspan x="334" y="1105">    cout &lt;&lt; p &lt;&lt; endl;</tspan><tspan x="334" y="1123">    cout &lt;&lt; p+1 &lt;&lt; endl;</tspan><tspan x="334" y="1141">    cout &lt;&lt; p+2 &lt;&lt; endl;</tspan><tspan x="334" y="1159">    cout &lt;&lt; p+3 &lt;&lt; endl;</tspan><tspan x="334" y="1177">    cout &lt;&lt; p+4 &lt;&lt; endl;</tspan><tspan x="334" y="1195">    for (int i=0;i&lt;5;i++)</tspan><tspan x="334" y="1213">    {</tspan><tspan x="334" y="1231">        cout &lt;&lt; p[i] &lt;&lt; endl;    //随机值</tspan><tspan x="334" y="1249">    }</tspan><tspan x="334" y="1285">    //申请连续的空间并初始化</tspan><tspan x="334" y="1303">    int *p2 = new int[5]{1,2,3,4,5};</tspan><tspan x="334" y="1321">    for (int i=0;i&lt;5;i++)</tspan><tspan x="334" y="1339">    {</tspan><tspan x="334" y="1357">        cout &lt;&lt; p2[i] &lt;&lt; endl;   //1,2,3,4,5</tspan><tspan x="334" y="1375">    }</tspan><tspan x="334" y="1393">    return 0;</tspan><tspan x="334" y="1411">}</tspan></text></g>
<g id="s2-2"><rect class="n" x="909" y="1665" width="93" height="24"/><text x="916" y="1682">【2】delete</text></g>
<g id="s2-2a"><rect class="n" x="548" y="1424" width="338" height="96"/><text xml:space="preserve"><tspan x="557" y="1442">1、delete释放单个空间</tspan><tspan x="557" y="1460">delete 指针名;    ----&gt;delete p</tspan><tspan x="557" y="1478">2、delete释放连续空间</tspan><tspan x="557" y="1496">delete []指针名;    ----&gt;delete []p</tspan><tspan x="557" y="1514">[]内不能写任何内容，只做引导delete释放多个空间使用</tspan></text></g>
<g id="s2-2b"><rect class="n" x="370" y="1525" width="516" height="330"/><text xml:space="preserve"><tspan x="379" y="1543">int main()</tspan><tspan x="379" y="1561">{</tspan><tspan x="379" y="1579">//-------------------使用new申请空间-----------------</tspan><tspan x="379" y="1597">    int *p1 = new int;   //使用new申请了堆区的一个int大小的空间</tspan><tspan x="379" y="1615">    cout &lt;&lt; p1 &lt;&lt; endl;</tspan><tspan x="379" y="1633">    *p1 = 90;</tspan><tspan x="379" y="1651">    cout &lt;&lt; *p1 &lt;&lt; endl;</tspan><tspan x="379" y="1669">    delete p1;</tspan><tspan x="379" y="1687">    p1 = nullptr;  //和NULL是一样的效果</tspan><tspan x="379" y="1723">    int *p2 = new int(45);  //使用new在堆区申请了一个int类型的控制，并赋初始值为</tspan><tspan x="379" y="1741">45</tspan><tspan x="379" y="1759">    cout &lt;&lt; *p2 &lt;&lt; endl;</tspan><tspan x="379" y="1777">    int *p3 = new int[5]{1,2,3,4,5};</tspan><tspan x="379" y="1795">    delete []p3;    //释放连续空间时，需要加[]</tspan><tspan x="379" y="1813">    p3 = nullptr;</tspan><tspan x="379" y="1831">    return 0;</tspan><tspan x="379" y="1849">}</tspan></text></g>
<g id="s2-2c"><rect class="n" x="593" y="1868" width="293" height="24"/><text class="r" x="601" y="1885">C++提供new/delete为什么不适用malloc/free</text></g>
<g id="s2-2c1"><rect class="n" x="62" y="1859" width="509" height="42"/><text class="r"><tspan x="71" y="1877">new和delete在申请和释放类对象空间是，new会自动调用构造函数，delete会自动调</tspan><tspan x="71" y="1895">用析构函数，但是malloc/free不会。</tspan></text></g>
<g id="s2-3"><rect class="n" x="708" y="1941" width="294" height="25"/><text x="715" y="1958">【3】new/delete和malloc/free的区别(笔试题)</text></g>
<g id="s2-3a"><rect class="n" x="16" y="1905" width="670" height="80"/><text><tspan x="25" y="1923">1.new/delete是C++中的关键字，malloc和free是C中的库函数</tspan><tspan x="25" y="1941">2.new/delete会自动调用构造和析构函数</tspan><tspan x="25" y="1959">3.new申请空间时以数据类型为单位，malloc以字节大小为单位</tspan><tspan x="25" y="1977">4.new在申请空间的同时可以初始化，malloc不行</tspan></text></g>

<g id="s4-1"><rect class="n" x="846" y="3925" width="154" height="23"/><text x="853" y="3942">【1】定义和C中的区别</text></g>
<g id="s4-1a"><rect class="n" x="144" y="3694" width="681" height="113"/><text><tspan x="153" y="3711">1.C++中的结构体，可以定义函数</tspan><tspan x="153" y="3729">2.C++中的结构体，可以给结构体成员初始化</tspan><tspan x="153" y="3747">3.C++中的结构体，在定义结构体变量时，可以加struct也可以不加struct</tspan><tspan x="153" y="3765">4.C++中的结构体，有访问权限</tspan><tspan x="153" y="3783">5.C++中的结构体，允许被继承</tspan><tspan x="153" y="3801">6.C++中的结构体，允许在结构体内嵌套另一个结构体定义的，C语言中，结构体内，只允许嵌套另一个结构体变量</tspan></text></g>
<g id="s4-1b"><rect class="n" x="316" y="3811" width="509" height="621"/><text xml:space="preserve"><tspan x="325" y="3829">include &lt;iostream&gt;</tspan><tspan x="325" y="3865">using namespace std;</tspan><tspan x="325" y="3901">struct Stu</tspan><tspan x="325" y="3919">{</tspan><tspan x="325" y="3937">    //public</tspan><tspan x="325" y="3955">    //private</tspan><tspan x="325" y="3973">   string name;</tspan><tspan x="325" y="4009">   void fun();     //在结构体内声明函数</tspan><tspan x="325" y="4027">   void set_age(int a)   //给结构体中的私有成员赋值,私有成员可以通过结构体内的公</tspan><tspan x="325" y="4045">有函数访问</tspan><tspan x="325" y="4063">   {</tspan><tspan x="325" y="4081">       age = a;</tspan><tspan x="325" y="4099">   }</tspan><tspan x="325" y="4117">private:</tspan><tspan x="325" y="4135">   int age=18;</tspan><tspan x="325" y="4153">};</tspan><tspan x="325" y="4189">//结构体外定义函数</tspan><tspan x="325" y="4207">void Stu::fun()</tspan><tspan x="325" y="4225">{</tspan><tspan x="325" y="4243">    cout &lt;&lt; name &lt;&lt; endl;</tspan><tspan x="325" y="4261">    cout &lt;&lt; age &lt;&lt; endl;</tspan><tspan x="325" y="4279">}</tspan><tspan x="325" y="4297">int main()</tspan><tspan x="325" y="4315">{</tspan><tspan x="325" y="4333">    Stu s1;</tspan><tspan x="325" y="4351">    s1.name = "zhangsan";</tspan><tspan x="325" y="4369">    s1.set_age(1000);</tspan><tspan x="325" y="4387">    s1.fun();</tspan><tspan x="325" y="4405">    return 0;</tspan><tspan x="325" y="4423">}</tspan></text></g>
<g id="s4-2"><rect class="n" x="869" y="4465" width="131" height="23"/><text x="876" y="4482">【2】结构体的大小</text></g>
<g id="s4-2a"><rect class="n" x="721" y="4465" width="125" height="23"/><text x="729" y="4482">结构体对齐的原则</text></g>
<g id="s4-2a1"><rect class="n" x="185" y="4437" width="515" height="42"/><text><tspan x="194" y="4455">第一个元素，直接存，从第二个元素起，每一个元素都要在其本身偏移量的整数倍上，</tspan><tspan x="194" y="4473">结构体的大小，是结构中最大对齐量的整数倍</tspan></text></g>
<g id="s4-2a2"><rect class="n" x="260" y="4484" width="440" height="23"/><text x="269" y="4501">自身偏移量=自身的大小&lt;操作系统对齐数?自身的大小:操作系统的对齐数</text></g>

<text class="wm" x="2478" y="6470">CSDN @ABlack_MC</text>
</g>
</svg>
